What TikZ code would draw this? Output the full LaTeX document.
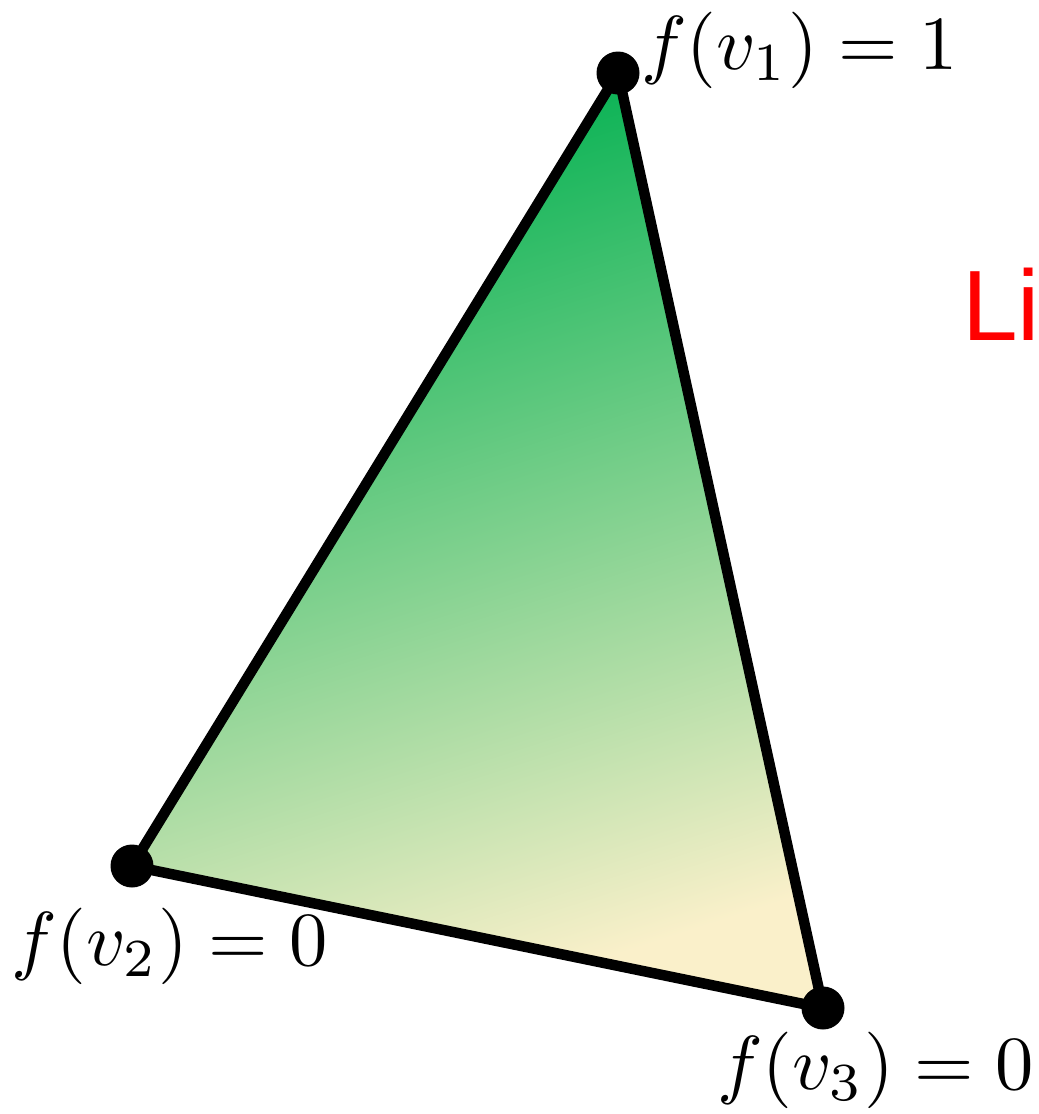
\documentclass[tikz,border=0pt]{standalone}
\usepackage{graphicx}
\usepackage{fontspec}
\newfontfamily\lisans{Liberation Sans}
\definecolor{topgreen}{RGB}{0,176,80}
\definecolor{paleyellow}{RGB}{250,240,202}
\tikzset{
  vdot/.style={circle,fill=black,inner sep=0pt,minimum size=43pt},
  edge/.style={line width=10.5pt,line join=round},
  lab/.style={anchor=base west,inner sep=0pt},
}
\newcommand{\biglab}[1]{\scalebox{7.65}{$#1$}}
\begin{document}
\begin{tikzpicture}[x=1pt,y=-1pt]
\useasboundingbox (0,0) rectangle (1039,1114);
\coordinate (p1) at (618,73);
\coordinate (p2) at (132,866);
\coordinate (p3) at (823,1008);
\shade[top color=topgreen,bottom color=paleyellow,shading angle=18] (p1) -- (p2) -- (p3) -- cycle;
\draw[edge] (p1) -- (p2) -- (p3) -- cycle;
\node[vdot] (v1) at (p1) {};
\node[vdot] (v2) at (p2) {};
\node[vdot] (v3) at (p3) {};
\node[lab] (l1) at (641,69) {\biglab{f(v_1)=1}};
\node[lab] (l2) at (11,965) {\biglab{f(v_2)=0}};
\node[lab] (l3) at (717,1089) {\biglab{f(v_3)=0}};
\node[anchor=base west,inner sep=0pt,text=red,font=\lisans\fontsize{100}{120}\selectfont] (li) at (962,340) {Li};
\end{tikzpicture}
\end{document}
